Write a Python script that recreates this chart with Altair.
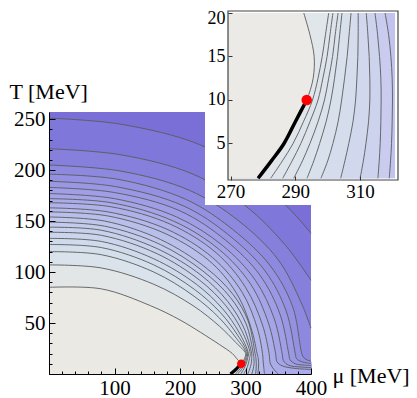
import altair as alt
import pandas as pd

# ---------------- main panel: contour lines (mu [MeV], T [MeV]) -------------
MAIN_MU = [
    [0, 80, 155, 200, 231, 260, 280, 288, 293.5, 290, 286, 282.5, 277],
    [0, 80, 160, 220, 260, 285, 300.3, 298.3, 296.7, 295.3, 292, 289.3, 286, 282.4, 281],
    [0, 80, 160, 220, 260, 286, 301.6, 299.8, 298.3, 297, 294, 291.7, 289, 286.1, 285],
    [0, 80, 160, 222, 262, 288, 303.2, 301.5, 300.2, 299, 296.5, 294.5, 292.2, 289.5, 288.5],
    [0, 80, 160, 225, 265, 290, 304.4, 303, 302, 301, 299, 297.5, 295.7, 293.6, 293],
    [0, 80, 165, 230, 270, 294, 307.2, 306, 305, 304.3, 302.8, 301.6, 300, 297.9, 297.3],
    [0, 80, 165, 232, 273, 297, 309.4, 309.4, 308.7, 306.5, 305, 304, 303.5],
    [0, 85, 170, 235, 277, 301, 311.9, 312.8, 313, 311.8, 310, 309.5],
    [0, 85, 170, 240, 281, 304, 314.6, 316, 316.5, 316.2, 315.5, 315.3],
    [0, 90, 180, 250, 290, 310, 317.7, 319.5, 320, 319.7, 319, 318.8],
    [0, 90, 180, 250, 295, 318, 326, 327, 328, 329],
    [0, 95, 185, 255, 300, 326, 336, 338, 344, 350],
    [0, 95, 190, 260, 308, 335, 346, 348, 356, 375, 400],
    [0, 100, 195, 265, 315, 344, 356, 358, 366, 385, 400],
    [0, 100, 200, 270, 322, 353, 366, 368, 376, 390, 400],
    [0, 100, 205, 275, 330, 362, 376, 378, 386, 400],
    [0, 105, 210, 280, 338, 372, 386, 389, 395, 400],
    [0, 110, 215, 290, 350, 385, 400],
    [0, 110, 220, 300, 360, 400],
    [0, 110, 230, 310, 370, 400],
]
MAIN_T = [
    [85, 83.5, 67, 53, 41, 29, 20, 14, 10, 7.8, 5, 3, 0],
    [107, 104, 88, 67, 47, 31, 20, 15, 12, 10, 7, 5, 3, 1, 0],
    [120, 117, 100, 77, 55, 35, 20, 15, 12, 10, 7, 5, 3, 1, 0],
    [127, 124, 107, 83, 60, 38, 20, 15, 12, 10, 7, 5, 3, 1, 0],
    [133, 130, 113, 88, 64, 41, 20, 15, 12, 10, 7, 5, 3, 1, 0],
    [139, 136, 118, 92, 67, 43, 20, 15, 12, 10, 7, 5, 3, 1, 0],
    [144, 141, 123, 97, 71, 46, 20, 15, 10, 5, 2.5, 1, 0],
    [149, 145, 127, 101, 75, 49, 20, 15, 10, 5, 1, 0],
    [154, 150, 132, 104, 78, 52, 20, 15, 10, 5, 1, 0],
    [159, 155, 137, 108, 75, 42, 20, 15, 10, 5, 1, 0],
    [163, 159, 142, 114, 80, 45, 20, 12, 6, 0],
    [168, 164, 147, 119, 85, 48, 20, 10, 4, 0],
    [172, 168, 150, 122, 88, 50, 20, 12, 8, 5.5, 4.5],
    [177, 172, 154, 126, 92, 54, 20, 13, 8.5, 6.8, 6.3],
    [183, 178, 160, 131, 97, 58, 20, 14, 10, 8.7, 8.3],
    [189, 184, 165, 136, 101, 62, 20, 15, 12, 10.3],
    [196, 191, 171, 142, 106, 66, 20, 16, 13.5, 12.7],
    [205, 199, 180, 150, 112, 70, 45],
    [221, 215, 196, 165, 127, 92],
    [251, 245, 225, 195, 160, 138],
]
BLACK_MU_MAIN = [277, 282.5, 286, 290, 293.5]
BLACK_T_MAIN = [0, 3, 5, 7.8, 10]
CP_MU = [293.5]
CP_T = [10]
MAIN_X_TICKS = [100, 200, 300, 400]
MAIN_Y_TICKS = [50, 100, 150, 200, 250]

# ---------------- inset: contour lines, mu as a function of T ----------------
INSET_T = [20, 17.5, 15, 12.5, 10, 7.5, 5, 3, 1]
INSET_MU = [
    [292.6, 294.5, 295.8, 295.5, 293.5, 290, 286.5, 282.6, 278.5],
    [300.3, 299.3, 298.3, 297.0, 295.3, 292.5, 289.3, 286.0, 282.4],
    [301.6, 300.7, 299.8, 298.5, 297.0, 294.5, 291.7, 289.0, 286.1],
    [303.2, 302.3, 301.5, 300.3, 299.0, 297.0, 294.5, 292.2, 289.5],
    [304.4, 303.7, 303.0, 302.1, 301.0, 299.5, 297.5, 295.7, 293.6],
    [307.2, 306.6, 306.0, 305.2, 304.3, 303.2, 301.6, 300.0, 297.9],
    [309.4, 309.4, 309.3, 309.0, 308.6, 307.8, 306.5, 305.3, 304.0],
    [311.9, 312.4, 312.8, 313.0, 313.0, 312.6, 311.8, 311.0, 310.0],
    [314.6, 315.4, 316.0, 316.4, 316.5, 316.4, 316.2, 315.9, 315.5],
    [317.7, 318.8, 319.5, 319.9, 320.0, 319.9, 319.7, 319.4, 319.0],
]
INSET_BLACK_T = [10, 7.5, 5, 3, 1]
INSET_BLACK_MU = [293.5, 290, 286.5, 282.6, 278.5]
INSET_MU_RANGE = [269.2, 320.8]
INSET_T_RANGE = [1, 20]
INSET_FRAME_MU = [269.2, 321.7]
INSET_FRAME_T = [0.8, 20.23]
INSET_X_TICKS = [270, 290, 310]
INSET_Y_TICKS = [5, 10, 15, 20]

# ---------------- styles ----------------
MAIN_FILL = ["#eae9e3", "#e2e6e7", "#dae3eb", "#d4dfec", "#cfdbec", "#cbd6ec", "#c7d1ec",
             "#c3ccec", "#bec6ec", "#b9bfeb", "#b4b8eb", "#afb1ea", "#aaabe9", "#a5a4e8",
             "#a09ee6", "#9a98e4", "#9491e2", "#8d89df", "#867fdc", "#7f77da"]
MAIN_OUTER = "#796fd7"
INSET_FILL = ["#ebeae6", "#e0e6ea", "#dee4eb", "#dce3eb", "#dae2eb", "#d8e0ec", "#d5ddec",
              "#d1d8ed", "#cdd2ed", "#c9ccee"]
INSET_OUTER = "#c2c4ef"
LINE_COLOR = "#5a5a5a"
FONT = "Liberation Serif"

W, H = 262, 262
MX = alt.Scale(domain=[0, 400], nice=False, zero=False)
MY = alt.Scale(domain=[0, 257], nice=False, zero=False)
IX = alt.Scale(domain=INSET_FRAME_MU, range=[179, 349], nice=False, zero=False)
IY = alt.Scale(domain=INSET_FRAME_T, range=[68, -101], nice=False, zero=False)

# ---------------- main panel ----------------
main_layers = []
bg = pd.DataFrame({"x": [0], "x2": [400], "y": [0], "y2": [257]})
main_layers.append(
    alt.Chart(bg).mark_rect(color=MAIN_OUTER).encode(
        x=alt.X("x:Q", scale=MX, axis=alt.Axis(
            orient="top", offset=-H, values=list(range(0, 401, 20)), labels=False,
            tickSize={"condition": {"test": "datum.value % 100 === 0", "value": 6}, "value": 3},
            tickColor="black", tickWidth=1, domain=True, domainColor="black", domainWidth=1,
            grid=False, title=None, zindex=2)),
        x2="x2:Q",
        y=alt.Y("y:Q", scale=MY, axis=alt.Axis(
            orient="right", offset=-W, values=list(range(0, 251, 10)), labels=False,
            tickSize={"condition": {"test": "datum.value % 50 === 0", "value": 6}, "value": 3},
            tickColor="black", tickWidth=1, domain=True, domainColor="black", domainWidth=1,
            grid=False, title=None, zindex=2)),
        y2="y2:Q",
    )
)

line_rows = []
for k in reversed(range(len(MAIN_MU))):
    mu, T = MAIN_MU[k], MAIN_T[k]
    col = MAIN_FILL[k]
    up = [(m, t) for m, t in zip(mu, T) if t >= 20]
    low = [(m, t) for m, t in zip(mu, T) if t <= 20]
    if not low:
        low = [(400, 20), (400, 0)]
    elif low[-1][1] > 0:
        low.append((low[-1][0], 0))
    dup = pd.DataFrame({"mu": [p[0] for p in up], "T": [p[1] for p in up], "base": 18})
    dlo = pd.DataFrame({"mu": [p[0] for p in low], "T": [p[1] for p in low], "base": 0})
    main_layers.append(
        alt.Chart(dup).mark_area(color=col, interpolate="catmull-rom").encode(
            x=alt.X("mu:Q", scale=MX, axis=None),
            y=alt.Y("T:Q", scale=MY, axis=None, stack=None),
            y2="base:Q"))
    main_layers.append(
        alt.Chart(dlo).mark_area(color=col, orient="horizontal", interpolate="catmull-rom").encode(
            y=alt.Y("T:Q", scale=MY, axis=None),
            x=alt.X("mu:Q", scale=MX, axis=None, stack=None),
            x2="base:Q"))
    for i, (m, t) in enumerate(zip(mu, T)):
        line_rows.append({"k": k, "i": i, "mu": m, "T": t})

main_layers.append(
    alt.Chart(pd.DataFrame(line_rows)).mark_line(
        color=LINE_COLOR, strokeWidth=0.9, interpolate="catmull-rom").encode(
        x=alt.X("mu:Q", scale=MX, axis=None),
        y=alt.Y("T:Q", scale=MY, axis=None),
        detail="k:N", order="i:Q"))

main_layers.append(
    alt.Chart(pd.DataFrame({"mu": BLACK_MU_MAIN, "T": BLACK_T_MAIN, "i": range(len(BLACK_T_MAIN))}))
    .mark_line(color="black", strokeWidth=3, interpolate="catmull-rom").encode(
        x=alt.X("mu:Q", scale=MX, axis=None), y=alt.Y("T:Q", scale=MY, axis=None), order="i:Q"))

main_layers.append(
    alt.Chart(pd.DataFrame({"mu": CP_MU, "T": CP_T})).mark_circle(
        color="#ff0000", opacity=1, size=70).encode(
        x=alt.X("mu:Q", scale=MX, axis=alt.Axis(
            orient="bottom", values=MAIN_X_TICKS, ticks=False, tickSize=0, domain=False, grid=False,
            labelFont=FONT, labelFontSize=21, labelColor="black", labelPadding=3,
            labelFlush=False, labelOverlap=False,
            title="μ [MeV]", titleFont=FONT, titleFontSize=22, titleFontWeight="normal",
            titleColor="black", titleAngle=0, titleAlign="left", titleBaseline="alphabetic",
            titleX=283, titleY=8, zindex=2)),
        y=alt.Y("T:Q", scale=MY, axis=alt.Axis(
            orient="left", values=MAIN_Y_TICKS, ticks=False, tickSize=0, domain=False, grid=False,
            labelFont=FONT, labelFontSize=21, labelColor="black", labelPadding=4,
            labelFlush=False, labelOverlap=False,
            title="T [MeV]", titleFont=FONT, titleFontSize=22, titleFontWeight="normal",
            titleColor="black", titleAngle=0, titleAlign="left", titleBaseline="alphabetic",
            titleX=-40, titleY=-14, zindex=2)),
    ))

main = alt.layer(*main_layers).resolve_axis(x="independent", y="independent")

# ---------------- inset ----------------
inset_layers = []
inset_layers.append(
    alt.Chart(pd.DataFrame({"a": [0]})).mark_rect(color="white").encode(
        x=alt.value(156), x2=alt.value(368), y=alt.value(-112), y2=alt.value(93)))

ibg = pd.DataFrame({"x": [INSET_MU_RANGE[0]], "x2": [INSET_MU_RANGE[1]],
                    "y": [INSET_T_RANGE[0]], "y2": [INSET_T_RANGE[1]]})
inset_layers.append(
    alt.Chart(ibg).mark_rect(color=INSET_OUTER).encode(
        x=alt.X("x:Q", scale=IX, axis=alt.Axis(
            orient="top", offset=-68, values=INSET_X_TICKS, labels=False, tickSize=4,
            tickColor="#333", domain=False, grid=False, title=None, zindex=3)),
        x2="x2:Q",
        y=alt.Y("y:Q", scale=IY, axis=alt.Axis(
            orient="right", offset=-83, values=INSET_Y_TICKS, labels=False, tickSize=4,
            tickColor="#333", domain=False, grid=False, title=None, zindex=3)),
        y2="y2:Q"))

iline_rows = []
for k in reversed(range(len(INSET_MU))):
    d = pd.DataFrame({"mu": INSET_MU[k], "T": INSET_T, "base": INSET_MU_RANGE[0]})
    inset_layers.append(
        alt.Chart(d).mark_area(color=INSET_FILL[k], orient="horizontal", interpolate="catmull-rom").encode(
            y=alt.Y("T:Q", scale=IY, axis=None),
            x=alt.X("mu:Q", scale=IX, axis=None, stack=None),
            x2="base:Q"))
    for i, (m, t) in enumerate(zip(INSET_MU[k], INSET_T)):
        iline_rows.append({"k": k, "i": i, "mu": m, "T": t})

inset_layers.append(
    alt.Chart(pd.DataFrame(iline_rows)).mark_line(
        color=LINE_COLOR, strokeWidth=0.9, interpolate="catmull-rom").encode(
        x=alt.X("mu:Q", scale=IX, axis=None),
        y=alt.Y("T:Q", scale=IY, axis=None),
        detail="k:N", order="i:Q"))

inset_layers.append(
    alt.Chart(pd.DataFrame({"mu": INSET_BLACK_MU, "T": INSET_BLACK_T, "i": range(len(INSET_BLACK_T))}))
    .mark_line(color="black", strokeWidth=3.5, interpolate="catmull-rom").encode(
        x=alt.X("mu:Q", scale=IX, axis=None), y=alt.Y("T:Q", scale=IY, axis=None), order="i:Q"))

inset_layers.append(
    alt.Chart(pd.DataFrame({"mu": CP_MU, "T": CP_T})).mark_circle(
        color="#ff0000", opacity=1, size=110).encode(
        x=alt.X("mu:Q", scale=IX, axis=alt.Axis(
            orient="bottom", offset=-194, values=INSET_X_TICKS, ticks=False, tickSize=0,
            domain=False, grid=False, labelFont=FONT, labelFontSize=19, labelColor="black",
            labelPadding=2, labelFlush=False, labelOverlap=False, title=None, zindex=3)),
        y=alt.Y("T:Q", scale=IY, axis=alt.Axis(
            orient="left", offset=-179, values=INSET_Y_TICKS, ticks=False, tickSize=0,
            domain=False, grid=False, labelFont=FONT, labelFontSize=18, labelColor="black",
            labelPadding=3, labelFlush=False, labelOverlap=False, title=None, zindex=3,
            labelOffset={"condition": {"test": "datum.value === 20", "value": 5}, "value": 0})),
    ))

iframe = pd.DataFrame({"x": [INSET_FRAME_MU[0]], "x2": [INSET_FRAME_MU[1]],
                       "y": [INSET_FRAME_T[0]], "y2": [INSET_FRAME_T[1]]})
inset_layers.append(
    alt.Chart(iframe).mark_rect(fillOpacity=0, stroke="#444", strokeWidth=1.2).encode(
        x=alt.X("x:Q", scale=IX, axis=None), x2="x2:Q",
        y=alt.Y("y:Q", scale=IY, axis=None), y2="y2:Q"))

inset = alt.layer(*inset_layers).resolve_axis(x="independent", y="independent")

chart = alt.layer(main, inset).resolve_scale(x="independent", y="independent").properties(
    width=W, height=H,
    autosize=alt.AutoSizeParams(type="none"),
    padding={"left": 41, "top": 104, "right": 98, "bottom": 26},
).configure_view(stroke=None)

chart.save("out.html", embed_options={"renderer": "svg", "actions": False})
